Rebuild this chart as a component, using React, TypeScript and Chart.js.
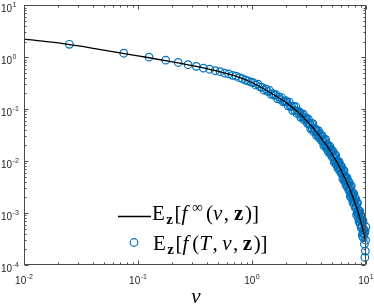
import React, { useEffect, useRef } from 'react';
import { Chart, registerables } from 'chart.js';

Chart.register(...registerables);

// ---- data ----
const lineV = [0.01, 0.02, 0.05, 0.1, 0.2, 0.3, 0.5, 0.7, 1, 1.5, 2, 2.5, 3, 3.5, 4, 4.5, 5, 5.5, 6, 6.5, 7, 7.5, 8, 8.5, 9, 9.5, 10];
const lineY = [2.22, 1.88, 1.37, 1.06, 0.815, 0.687, 0.537, 0.44, 0.325, 0.198, 0.133, 0.0897, 0.0608, 0.0412, 0.0287, 0.0202, 0.0141, 0.00986, 0.00687, 0.0048, 0.00335, 0.00233, 0.00158, 0.00106, 0.000689, 0.000436, 0.000261];

const pointV = [
  0.025, 0.075, 0.125, 0.175, 0.225, 0.275, 0.325, 0.375, 0.425, 0.475,
  0.525, 0.575, 0.625, 0.675, 0.725, 0.775, 0.825, 0.875, 0.925, 0.975,
  1.025, 1.075, 1.125, 1.175, 1.225, 1.275, 1.325, 1.375, 1.425, 1.475,
  1.525, 1.575, 1.625, 1.675, 1.725, 1.775, 1.825, 1.875, 1.925, 1.975,
  2.025, 2.075, 2.125, 2.175, 2.225, 2.275, 2.325, 2.375, 2.425, 2.475,
  2.525, 2.575, 2.625, 2.675, 2.725, 2.775, 2.825, 2.875, 2.925, 2.975,
  3.025, 3.075, 3.125, 3.175, 3.225, 3.275, 3.325, 3.375, 3.425, 3.475,
  3.525, 3.575, 3.625, 3.675, 3.725, 3.775, 3.825, 3.875, 3.925, 3.975,
  4.025, 4.075, 4.125, 4.175, 4.225, 4.275, 4.325, 4.375, 4.425, 4.475,
  4.525, 4.575, 4.625, 4.675, 4.725, 4.775, 4.825, 4.875, 4.925, 4.975,
  5.025, 5.075, 5.125, 5.175, 5.225, 5.275, 5.325, 5.375, 5.425, 5.475,
  5.525, 5.575, 5.625, 5.675, 5.725, 5.775, 5.825, 5.875, 5.925, 5.975,
  6.025, 6.075, 6.125, 6.175, 6.225, 6.275, 6.325, 6.375, 6.425, 6.475,
  6.525, 6.575, 6.625, 6.675, 6.725, 6.775, 6.825, 6.875, 6.925, 6.975,
  7.025, 7.075, 7.125, 7.175, 7.225, 7.275, 7.325, 7.375, 7.425, 7.475,
  7.525, 7.575, 7.625, 7.675, 7.725, 7.775, 7.825, 7.875, 7.925, 7.975,
  8.025, 8.075, 8.125, 8.175, 8.225, 8.275, 8.325, 8.375, 8.425, 8.475,
  8.525, 8.575, 8.625, 8.675, 8.725, 8.775, 8.825, 8.875, 8.925, 8.975,
  9.025, 9.075, 9.125, 9.175, 9.225, 9.275, 9.325, 9.375, 9.425, 9.475,
  9.525, 9.575, 9.625, 9.675, 9.725, 9.775, 9.825, 9.875, 9.925, 9.975,
];
const pointY = [
  1.77, 1.19, 1.0, 0.875, 0.79, 0.715, 0.665, 0.615, 0.585, 0.548,
  0.525, 0.492, 0.474, 0.447, 0.43, 0.402, 0.387, 0.362, 0.351, 0.33,
  0.324, 0.292, 0.303, 0.269, 0.262, 0.232, 0.245, 0.218, 0.228, 0.193,
  0.198, 0.184, 0.189, 0.158, 0.172, 0.154, 0.167, 0.138, 0.141, 0.146,
  0.136, 0.116, 0.136, 0.112, 0.113, 0.0937, 0.113, 0.0933, 0.111, 0.0825,
  0.091, 0.0836, 0.088, 0.0697, 0.0802, 0.0694, 0.0799, 0.0614, 0.0646, 0.0689,
  0.0631, 0.0524, 0.064, 0.0512, 0.052, 0.0417, 0.0528, 0.0423, 0.0526, 0.037,
  0.042, 0.0383, 0.0413, 0.0313, 0.0377, 0.032, 0.0385, 0.0281, 0.0303, 0.0333,
  0.03, 0.0245, 0.031, 0.0244, 0.0251, 0.0196, 0.0259, 0.0203, 0.0262, 0.0178,
  0.0207, 0.0188, 0.0205, 0.0151, 0.0187, 0.0156, 0.0193, 0.0136, 0.0149, 0.0166,
  0.0149, 0.0119, 0.0155, 0.0119, 0.0123, 0.00942, 0.0129, 0.00984, 0.0131, 0.00855,
  0.0101, 0.00914, 0.0101, 0.00723, 0.0092, 0.00755, 0.00962, 0.00656, 0.00726, 0.00824,
  0.00729, 0.00575, 0.00771, 0.00577, 0.00601, 0.0045, 0.00635, 0.00475, 0.00653, 0.0041,
  0.00497, 0.00445, 0.00499, 0.00346, 0.00453, 0.00366, 0.00479, 0.00316, 0.00354, 0.00408,
  0.00361, 0.00274, 0.0039, 0.00279, 0.00294, 0.0021, 0.00318, 0.00228, 0.00333, 0.00194,
  0.00243, 0.00214, 0.00246, 0.0016, 0.00221, 0.00172, 0.00237, 0.00146, 0.00168, 0.00199,
  0.00172, 0.00125, 0.00188, 0.00128, 0.00136, 0.000929, 0.0015, 0.00102, 0.00159, 0.000849,
  0.00111, 0.000959, 0.00113, 0.000692, 0.001, 0.000753, 0.00109, 0.000624, 0.000735, 0.000895,
  0.000762, 0.000522, 0.000855, 0.00054, 0.000583, 0.000369, 0.000656, 0.000414, 0.000706, 0.000333,
  0.00047, 0.000385, 0.00048, 0.000255, 0.000415, 0.00014, 0.00045, 0.000185, 0.0003, 0.00054,
];

const xTickExps = [-2, -1, 0, 1];
const yTickExps = [-4, -3, -2, -1, 0, 1];
const xTitle = 'v';
const lineLabel = 'E_z[f^∞(v, z)]';
const pointLabel = 'E_z[f(T, v, z)]';

type Seg = { t: string; st?: 'i' | 'b'; sz?: 'sub' | 'sup'; g?: number };
const lineLegend: Seg[] = [
  { t: 'E', g: 1.5 }, { t: 'z', st: 'b', sz: 'sub', g: 1.5 }, { t: '[', g: 0 }, { t: 'f', st: 'i', g: 5 },
  { t: '∞', sz: 'sup', g: 3 }, { t: '(' }, { t: 'v', st: 'i', g: 1.5 }, { t: ',', g: 5 }, { t: 'z', st: 'b', g: 1.5 },
  { t: ')' }, { t: ']' },
];
const pointLegend: Seg[] = [
  { t: 'E', g: 1.5 }, { t: 'z', st: 'b', sz: 'sub', g: 1.5 }, { t: '[', g: 0 }, { t: 'f', st: 'i', g: 4 },
  { t: '(' }, { t: 'T', st: 'i', g: 1.5 }, { t: ',', g: 4.5 }, { t: 'v', st: 'i', g: 1.5 }, { t: ',', g: 4.5 },
  { t: 'z', st: 'b', g: 1.5 }, { t: ')' }, { t: ']' },
];

const BLUE = '#0072BD';
const AXIS = '#262626';
const SANS = '"Liberation Sans", Arial, sans-serif';
const SERIF = '"Liberation Serif", "Times New Roman", serif';

function drawRich(ctx: CanvasRenderingContext2D, segs: Seg[], x: number, base: number) {
  let cx = x;
  for (const s of segs) {
    const size = s.sz ? 15 : 21;
    ctx.font = `${s.st === 'i' ? 'italic ' : ''}${s.st === 'b' ? 'bold ' : ''}${size}px ${SERIF}`;
    const dy = s.sz === 'sub' ? 4 : s.sz === 'sup' ? -8 : 0;
    ctx.fillText(s.t, cx, base + dy);
    cx += ctx.measureText(s.t).width + (s.g || 0);
  }
}

function drawPow(ctx: CanvasRenderingContext2D, e: number, x: number, base: number, align: 'left' | 'center') {
  const mant = '10';
  const ex = String(e);
  ctx.font = `10px ${SANS}`;
  const w1 = ctx.measureText(mant).width;
  ctx.font = `7px ${SANS}`;
  const w2 = ctx.measureText(ex).width;
  const x0 = align === 'center' ? x - (w1 + w2 + 0.5) / 2 : x;
  ctx.font = `10px ${SANS}`;
  ctx.fillText(mant, x0, base);
  ctx.font = `7px ${SANS}`;
  ctx.fillText(ex, x0 + w1 + 0.5, base - 5);
}

const decor = {
  id: 'decor',
  afterDraw(chart: any) {
    const ctx: CanvasRenderingContext2D = chart.ctx;
    const xs = chart.scales.x;
    const ys = chart.scales.y;
    const { left, right, top, bottom } = chart.chartArea;
    const L = Math.round(left) + 0.5;
    const R = Math.round(right) - 0.5;
    const T = Math.round(top) + 0.5;
    const B = Math.round(bottom) - 0.5;
    ctx.save();
    ctx.strokeStyle = '#4a4a4a';
    ctx.lineWidth = 1;
    ctx.beginPath();
    ctx.rect(L, T, R - L, B - T);
    ctx.stroke();
    ctx.beginPath();
    for (const e of xTickExps) {
      const px = Math.round(xs.getPixelForValue(Math.pow(10, e))) + 0.5;
      ctx.moveTo(px, B); ctx.lineTo(px, B - 4);
      ctx.moveTo(px, T); ctx.lineTo(px, T + 4);
    }
    for (const e of xTickExps.slice(0, -1)) {
      for (let k = 2; k <= 9; k++) {
        const px = Math.round(xs.getPixelForValue(k * Math.pow(10, e))) + 0.5;
        ctx.moveTo(px, B); ctx.lineTo(px, B - 2);
        ctx.moveTo(px, T); ctx.lineTo(px, T + 2);
      }
    }
    for (const e of yTickExps) {
      const py = Math.round(ys.getPixelForValue(Math.pow(10, e))) + 0.5;
      ctx.moveTo(L, py); ctx.lineTo(L + 4, py);
      ctx.moveTo(R, py); ctx.lineTo(R - 4, py);
    }
    for (const e of yTickExps.slice(0, -1)) {
      for (let k = 2; k <= 9; k++) {
        const py = Math.round(ys.getPixelForValue(k * Math.pow(10, e))) + 0.5;
        ctx.moveTo(L, py); ctx.lineTo(L + 2, py);
        ctx.moveTo(R, py); ctx.lineTo(R - 2, py);
      }
    }
    ctx.stroke();

    ctx.fillStyle = AXIS;
    ctx.textBaseline = 'alphabetic';
    ctx.textAlign = 'left';
    for (const e of yTickExps) {
      const py = ys.getPixelForValue(Math.pow(10, e));
      drawPow(ctx, e, 1, py + 7, 'left');
    }
    for (const e of xTickExps) {
      const px = xs.getPixelForValue(Math.pow(10, e));
      drawPow(ctx, e, px, bottom + 19, 'center');
    }
    ctx.fillStyle = '#000';
    ctx.font = `italic 21px ${SERIF}`;
    ctx.textAlign = 'center';
    ctx.fillText(xTitle, (left + right) / 2 + 1, 303);

    ctx.textAlign = 'left';
    ctx.strokeStyle = '#000';
    ctx.lineWidth = 1.3;
    ctx.beginPath();
    ctx.moveTo(118, 216.5);
    ctx.lineTo(151, 216.5);
    ctx.stroke();
    ctx.strokeStyle = BLUE;
    ctx.lineWidth = 1.2;
    ctx.beginPath();
    ctx.arc(134, 242.5, 3.8, 0, Math.PI * 2);
    ctx.stroke();
    ctx.fillStyle = '#000';
    drawRich(ctx, lineLegend, 152, 220);
    drawRich(ctx, pointLegend, 153, 250);
    ctx.restore();
  },
};

export default function App() {
  const ref = useRef<HTMLCanvasElement>(null);
  useEffect(() => {
    if (!ref.current) return;
    const chart = new Chart(ref.current, {
      type: 'scatter',
      data: {
        datasets: [
          {
            label: lineLabel,
            data: lineV.map((v, i) => ({ x: v, y: lineY[i] })),
            showLine: true,
            borderColor: '#000',
            backgroundColor: '#000',
            borderWidth: 1.3,
            pointRadius: 0,
            cubicInterpolationMode: 'monotone',
            order: 0,
          } as any,
          {
            label: pointLabel,
            data: pointV.map((v, i) => ({ x: v, y: pointY[i] })),
            borderColor: BLUE,
            backgroundColor: 'rgba(0,0,0,0)',
            pointRadius: 3.8,
            pointBorderWidth: 1.2,
            showLine: false,
            clip: 6,
            order: 1,
          } as any,
        ],
      },
      options: {
        animation: false,
        responsive: false,
        events: [],
        layout: { padding: { left: 24, right: 8, top: 5, bottom: 41 } },
        plugins: { legend: { display: false }, tooltip: { enabled: false } },
        scales: {
          x: { type: 'logarithmic', min: 0.01, max: 10, display: false },
          y: { type: 'logarithmic', min: 1e-4, max: 10, display: false },
        },
      },
      plugins: [decor],
    });
    return () => chart.destroy();
  }, []);
  return (
    <div style={{ position: 'fixed', left: 0, top: 0, width: 374, height: 306, background: '#fff' }}>
      <canvas ref={ref} width={374} height={306} style={{ display: 'block', width: 374, height: 306 }} />
    </div>
  );
}
